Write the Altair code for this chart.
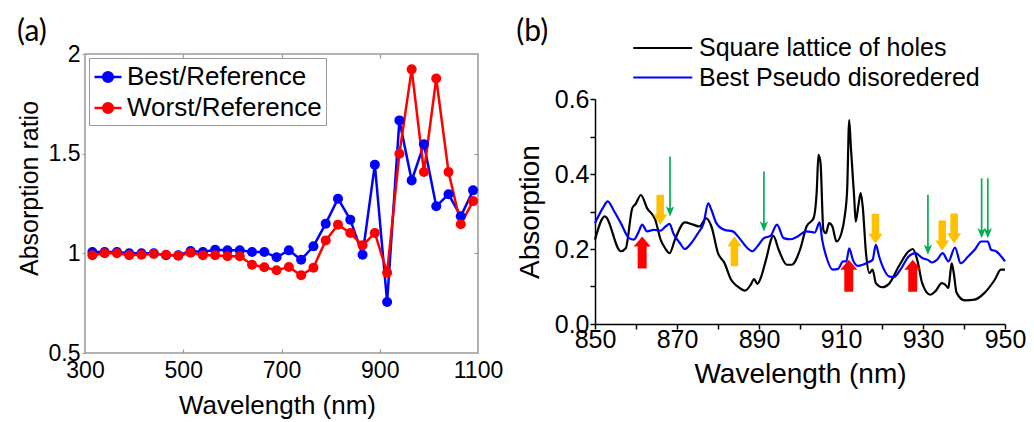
import altair as alt
import pandas as pd

# ---------------- panel (a) data ----------------
wl_a = [315, 340, 365, 390, 415, 440, 465, 490, 515, 540, 565, 590, 615, 640, 665, 690,
        715, 740, 765, 790, 815, 840, 865, 890, 915, 940, 965, 990, 1015, 1040, 1065, 1090]
best_ratio = [1.007, 1.007, 1.007, 1.0, 1.0, 1.0, 0.99, 0.99, 1.012, 1.007, 1.018, 1.015, 1.015, 1.007, 1.007, 0.98,
              1.015, 0.968, 1.035, 1.149, 1.274, 1.169, 0.993, 1.445, 0.756, 1.667, 1.366, 1.547, 1.236, 1.296, 1.186, 1.316]
worst_ratio = [0.99, 1.0, 1.0, 0.99, 0.993, 0.997, 0.993, 0.988, 1.003, 0.99, 0.99, 0.985, 0.985, 0.943, 0.93, 0.915,
               0.931, 0.89, 0.928, 1.065, 1.144, 1.102, 1.04, 1.102, 0.903, 1.5, 1.923, 1.408, 1.877, 1.408, 1.146, 1.262]
series_a = ["Best/Reference", "Worst/Reference"]
xticks_a = [300, 500, 700, 900, 1100]
yticks_a = [0.5, 1, 1.5, 2]
inner_xticks_a = [500, 700, 900]
inner_yticks_a = [1, 1.5]

# ---------------- panel (b) data ----------------
sq_wl = [850, 852.4, 856.3, 857.5, 859.1, 859.9, 861.2, 862.7, 864.7, 866.0, 867.1, 868.2, 869.5, 871.9, 873.9,
         875.5, 877.1, 878.4, 880.0, 881.6, 883.2, 884.8, 886.6, 888.0, 888.8, 889.6, 890.4, 891.6, 893.5, 894.8,
         896.8, 898.0, 900.0, 901.6, 903.3, 904.1, 904.5, 905.0, 905.7, 906.3, 907.1, 907.9, 908.9, 910.1, 910.9,
         911.5, 912.0, 912.4, 913.2, 913.6, 914.2, 914.8, 915.3, 916.1, 916.9, 917.7, 918.5, 920.1, 921.7, 924.1,
         926.5, 927.5, 928.6, 929.8, 931.8, 933.0, 934.6, 935.4, 936.2, 936.7, 937.0, 937.5, 938.2, 940.2, 942.6,
         945.0, 947.5, 949.0, 950.0]
sq_abs = [0.225, 0.287, 0.194, 0.202, 0.309, 0.32, 0.344, 0.309, 0.278, 0.225, 0.202, 0.189, 0.225, 0.271, 0.265,
          0.26, 0.282, 0.26, 0.189, 0.162, 0.118, 0.10, 0.089, 0.105, 0.12, 0.107, 0.122, 0.167, 0.235, 0.198,
          0.158, 0.158, 0.198, 0.26, 0.282, 0.358, 0.451, 0.43, 0.251, 0.242, 0.269, 0.26, 0.22, 0.242, 0.287,
          0.358, 0.544, 0.473, 0.34, 0.273, 0.313, 0.349, 0.313, 0.189, 0.136, 0.145, 0.109, 0.098, 0.107, 0.154,
          0.194, 0.2, 0.171, 0.109, 0.078, 0.087, 0.109, 0.105, 0.096, 0.14, 0.162, 0.136, 0.083, 0.063, 0.065,
          0.083, 0.118, 0.145, 0.145]
pd_wl = [850, 851.9, 853.1, 854.7, 856.3, 858.3, 859.5, 860.7, 861.5, 862.7, 864.3, 866.0, 867.2, 868.2, 869.1,
         870.7, 871.9, 873.5, 875.1, 876.5, 877.6, 878.4, 879.6, 881.6, 883.6, 885.2, 887.2, 888.4, 889.6, 891.2,
         892.8, 894.4, 896.0, 897.6, 899.2, 901.6, 903.6, 904.8, 905.4, 906.4, 908.0, 909.3, 910.5, 911.3, 912.0,
         912.9, 914.1, 915.3, 916.5, 917.7, 918.5, 919.3, 920.5, 921.7, 922.9, 924.5, 926.5, 928.2, 929.8, 931.2,
         932.2, 933.4, 934.8, 936.2, 937.8, 939.2, 941.0, 942.6, 944.2, 945.8, 946.6, 947.8, 950.0]
pd_abs = [0.269, 0.309, 0.327, 0.3, 0.269, 0.229, 0.225, 0.247, 0.265, 0.247, 0.251, 0.249, 0.26, 0.267, 0.242,
          0.216, 0.2, 0.216, 0.242, 0.269, 0.322, 0.304, 0.269, 0.251, 0.247, 0.229, 0.202, 0.194, 0.207, 0.229,
          0.235, 0.265, 0.229, 0.226, 0.232, 0.247, 0.244, 0.271, 0.225, 0.18, 0.145, 0.147, 0.167, 0.167, 0.202,
          0.171, 0.155, 0.158, 0.164, 0.171, 0.211, 0.18, 0.145, 0.127, 0.125, 0.145, 0.18, 0.189, 0.176, 0.171,
          0.164, 0.171, 0.189, 0.167, 0.204, 0.162, 0.18, 0.198, 0.22, 0.22, 0.198, 0.194, 0.167]
series_b = ["Square lattice of holes", "Best Pseudo disoredered"]

# arrow annotations (centre wavelength, centre absorption, kind)
arrow_wl = [861.5, 911.9, 927.5, 865.9, 884.0, 918.4, 934.7, 937.6, 868.3, 891.2, 931.2, 944.3, 945.8]
arrow_abs = [0.191, 0.129, 0.129, 0.305, 0.194, 0.254, 0.236, 0.255, 0.367, 0.327, 0.265, 0.309, 0.309]
arrow_kind = ["red_up", "red_up", "red_up", "orange_down", "orange_up", "orange_down", "orange_down",
              "orange_down", "green_down", "green_down", "green_down", "green_down", "green_down"]

FONT = "Liberation Sans"
FRAME = "#9a9a9a"

# ---------------- panel (a) ----------------
df_a = pd.DataFrame({
    "wl": wl_a * 2,
    "ratio": best_ratio + worst_ratio,
    "series": [series_a[0]] * len(wl_a) + [series_a[1]] * len(wl_a),
})

legend_sym = "M-1,0 L1,0 M0.36,0 A0.36,0.36 0 1,1 -0.36,0 A0.36,0.36 0 1,1 0.36,0 Z"
color_a = alt.Color("series:N",
                    scale=alt.Scale(domain=series_a, range=["#0000ff", "#ff0000"]),
                    legend=alt.Legend(title=None, orient="none", legendX=4, legendY=4,
                                      symbolType=legend_sym, symbolSize=730, symbolStrokeWidth=2.5,
                                      labelFont=FONT, labelFontSize=26, labelColor="black",
                                      labelLimit=400, labelOffset=4, rowPadding=3, padding=4,
                                      strokeColor=FRAME, fillColor="white"))
sx_a = alt.Scale(domain=[300, 1100], nice=False)
sy_a = alt.Scale(domain=[0.5, 2], nice=False, zero=False)

x_a = alt.X("wl:Q", scale=sx_a,
            axis=alt.Axis(values=xticks_a, format="d", title="Wavelength (nm)", grid=False, domain=False,
                          ticks=False, labelFontSize=23, titleFontSize=26, labelPadding=6, titlePadding=10,
                          titleX=192, labelFont=FONT, titleFont=FONT, titleFontWeight="normal",
                          labelColor="black", titleColor="black", labelFlush=False, labelOverlap=False))
y_a = alt.Y("ratio:Q", scale=sy_a,
            axis=alt.Axis(values=yticks_a, format="~g", title="Absorption ratio", grid=False, domain=False,
                          tickSize=3, tickColor=FRAME, labelFontSize=23, titleFontSize=25,
                          labelPadding=2, titlePadding=6, titleY=134, labelFont=FONT, titleFont=FONT,
                          titleFontWeight="normal", labelColor="black", titleColor="black",
                          labelFlush=False, labelOverlap=False))
x_a_plain = alt.X("wl:Q", scale=sx_a, axis=None)
y_a_plain = alt.Y("ratio:Q", scale=sy_a, axis=None)

line_a = alt.Chart(df_a).mark_line(strokeWidth=2.5).encode(x=x_a, y=y_a, color=color_a)
pts_a = alt.Chart(df_a).mark_point(filled=True, size=100, opacity=1).encode(
    x=x_a_plain, y=y_a_plain, color=color_a)

# inward ticks on the frame (top / right / bottom)
tick_axis = dict(labels=False, domain=False, grid=False, title=None, tickSize=4, tickColor=FRAME, tickWidth=1.2)
ticks_tr = alt.Chart(df_a).mark_point(opacity=0).encode(
    x=alt.X("wl:Q", scale=sx_a, axis=alt.Axis(orient="top", offset=-4, values=inner_xticks_a, **tick_axis)),
    y=alt.Y("ratio:Q", scale=sy_a, axis=alt.Axis(orient="right", offset=-4, values=inner_yticks_a, **tick_axis)),
)
ticks_b = alt.Chart(df_a).mark_point(opacity=0).encode(
    x=alt.X("wl:Q", scale=sx_a, axis=alt.Axis(orient="top", offset=-299, values=inner_xticks_a, **tick_axis)),
    y=y_a_plain,
)

panel_a = alt.layer(line_a, pts_a, ticks_tr, ticks_b).resolve_axis(x="independent", y="independent").properties(
    width=393, height=299,
    view=alt.ViewBackground(stroke=FRAME, strokeWidth=1.5),
    title=alt.TitleParams("(a)", anchor="start", font="Lato", fontSize=30, fontWeight="normal",
                          color="black", offset=-4),
)

# ---------------- panel (b) ----------------
df_b = pd.concat([
    pd.DataFrame({"wl": sq_wl, "abs": sq_abs, "series": series_b[0]}),
    pd.DataFrame({"wl": pd_wl, "abs": pd_abs, "series": series_b[1]}),
], ignore_index=True)

H_B = 270   # panel height incl. 45 px headroom for the legend
x_b = alt.X("wl:Q", scale=alt.Scale(domain=[850, 950], nice=False),
            axis=alt.Axis(values=list(range(850, 951, 10)),
                          labelExpr="(datum.value - 850) % 20 == 0 ? format(datum.value, 'd') : ''",
                          title="Wavelength (nm)", grid=False, domainColor="black", domainWidth=1.5,
                          tickColor="black", tickWidth=1.5, tickSize=5, labelFontSize=25, titleFontSize=28,
                          labelPadding=-2, titlePadding=8, labelFont=FONT, titleFont=FONT,
                          titleFontWeight="normal", labelColor="black", titleColor="black",
                          labelOverlap=False, labelFlush=False))
y_b = alt.Y("abs:Q", scale=alt.Scale(domain=[0, 0.6], nice=False, range=[H_B, 45]),
            axis=alt.Axis(values=[0, 0.1, 0.2, 0.3, 0.4, 0.5, 0.6],
                          labelExpr="round(datum.value * 10) % 2 == 0 ? format(datum.value, '.1f') : ''",
                          title="Absorption", grid=False, domainColor="black", domainWidth=1.5,
                          tickColor="black", tickWidth=1.5, tickSize=5, labelFontSize=25, titleFontSize=28,
                          labelPadding=1, titlePadding=10, labelFont=FONT, titleFont=FONT,
                          titleFontWeight="normal", labelColor="black", titleColor="black",
                          labelOverlap=False, labelFlush=False))
color_b = alt.Color("series:N",
                    scale=alt.Scale(domain=series_b, range=["black", "#0000ff"]),
                    legend=alt.Legend(title=None, orient="none", legendX=37, legendY=-22,
                                      symbolType="M-1,0 L3,0", symbolSize=870, symbolStrokeWidth=1.8,
                                      labelFont=FONT, labelFontSize=25, labelColor="black",
                                      labelLimit=500, labelOffset=35, rowPadding=0.5, padding=0))

line_b = alt.Chart(df_b).mark_line(strokeWidth=2.2, interpolate="monotone").encode(
    x=x_b, y=y_b, color=color_b, order=alt.Order("wl:Q"))

df_arr = pd.DataFrame({"wl": arrow_wl, "abs": arrow_abs, "kind": arrow_kind})
arrow_specs = [
    ("red_up", "M-0.28,1 L-0.28,-0.37 L-0.53,-0.37 L0,-1 L0.53,-0.37 L0.28,-0.37 L0.28,1 Z", 1024, "#ff0000"),
    ("orange_down", "M-0.25,-1 L0.25,-1 L0.25,0.33 L0.47,0.33 L0,1 L-0.47,0.33 L-0.25,0.33 Z", 900, "#ffc000"),
    ("orange_up", "M-0.25,1 L0.25,1 L0.25,-0.33 L0.47,-0.33 L0,-1 L-0.47,-0.33 L-0.25,-0.33 Z", 900, "#ffc000"),
    ("green_down", "M-0.028,-1 L0.028,-1 L0.028,0.74 L0.14,0.66 L0,1 L-0.14,0.66 L-0.028,0.74 Z", 3600, "#00b050"),
]
arrow_layers = [
    alt.Chart(df_arr).transform_filter(alt.datum.kind == k)
    .mark_point(shape=p, size=s, filled=True, color=c, opacity=1, strokeWidth=0)
    .encode(x=x_b, y=y_b)
    for k, p, s, c in arrow_specs
]

panel_b = alt.layer(line_b, *arrow_layers).properties(
    width=410, height=H_B,
    view=alt.ViewBackground(strokeOpacity=0),
    title=alt.TitleParams("(b)", anchor="start", font="Lato", fontSize=30, fontWeight="normal",
                          color="black", offset=-15),
)

chart = alt.hconcat(panel_a, panel_b, spacing=12).resolve_scale(color="independent").resolve_legend(
    color="independent"
).configure(padding={"left": 8, "top": 8, "right": 0, "bottom": 0}, background="white")

chart.save("out.html", embed_options={"renderer": "svg", "actions": False})
